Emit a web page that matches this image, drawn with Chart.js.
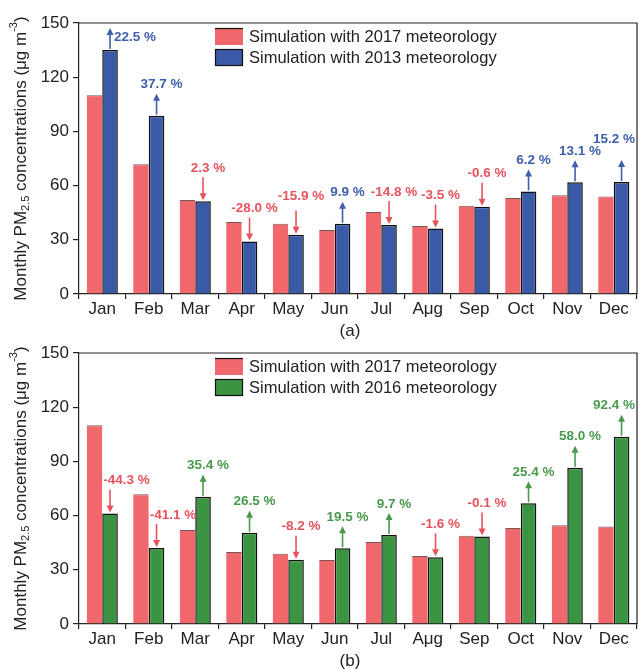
<!DOCTYPE html>
<html>
<head>
<meta charset="utf-8">
<script src="https://cdn.jsdelivr.net/npm/chart.js@4.4.1/dist/chart.umd.min.js"></script>
<style>
  html, body { margin: 0; padding: 0; background: #fff; }
  #wrap { position: relative; width: 639px; height: 669px; }
  canvas { position: absolute; left: 0; }
</style>
</head>
<body>
<div id="wrap">
  <canvas id="panelA" width="639" height="345" style="top:0"></canvas>
  <canvas id="panelB" width="639" height="339" style="top:330px"></canvas>
</div>
<script>
// monthly PM2.5 (ug m-3)
var months = ['Jan', 'Feb', 'Mar', 'Apr', 'May', 'Jun', 'Jul', 'Aμg', 'Sep', 'Oct', 'Nov', 'Dec'];
var sim2017 = [110, 71.8, 52, 39.8, 38.9, 35.4, 45.4, 37.6, 48.9, 53.1, 54.6, 53.9];
var sim2013 = [135, 98.7, 51.3, 29, 32.8, 38.9, 38.2, 36.2, 48.3, 56.8, 61.8, 62];
var sim2016 = [61.2, 42.1, 70.5, 50.5, 35.6, 41.9, 49.3, 36.9, 48.5, 66.8, 86.5, 103.7];
var change2013 = ['22.5 %', '37.7 %', '2.3 %', '-28.0 %', '-15.9 %', '9.9 %', '-14.8 %', '-3.5 %', '-0.6 %', '6.2 %', '13.1 %', '15.2 %'];
var change2016 = ['-44.3 %', '-41.1 %', '35.4 %', '26.5 %', '-8.2 %', '19.5 %', '9.7 %', '-1.6 %', '-0.1 %', '25.4 %', '58.0 %', '92.4 %'];
var yTicks = [0, 30, 60, 90, 120, 150];

var FONT = '"Liberation Sans", Arial, sans-serif';
var RED = '#f0686c', BLUE = '#3a5aa8', GREEN = '#3b9441';
var RED_TXT = '#e6535c', BLUE_TXT = '#3f5eab', GREEN_TXT = '#4a9a4e';

function arrow(ctx, x, yFrom, yTo, color) {
  var dir = yTo < yFrom ? -1 : 1;
  ctx.save();
  ctx.strokeStyle = color;
  ctx.fillStyle = color;
  ctx.lineWidth = 1.6;
  ctx.beginPath();
  ctx.moveTo(x, yFrom);
  ctx.lineTo(x, yTo - dir * 5);
  ctx.stroke();
  ctx.beginPath();
  ctx.moveTo(x, yTo);
  ctx.lineTo(x - 3.5, yTo - dir * 7);
  ctx.lineTo(x + 3.5, yTo - dir * 7);
  ctx.closePath();
  ctx.fill();
  ctx.restore();
}

var panelPlugin = {
  id: 'panel',
  afterDraw: function (chart, args, o) {
    var ctx = chart.ctx, area = chart.chartArea;
    var base = chart.getDatasetMeta(0).data, comp = chart.getDatasetMeta(1).data;
    var ds = chart.data.datasets;

    // frame (top + right)
    ctx.save();
    ctx.strokeStyle = '#222';
    ctx.lineWidth = 1.2;
    ctx.beginPath();
    ctx.moveTo(area.left, area.top);
    ctx.lineTo(area.right, area.top);
    ctx.lineTo(area.right, area.bottom);
    ctx.stroke();
    ctx.restore();

    // change arrows + labels
    ctx.save();
    ctx.font = 'bold 13.5px ' + FONT;
    ctx.textAlign = 'center';
    ctx.textBaseline = 'middle';
    var prev = null;
    for (var i = 0; i < comp.length; i++) {
      var b = comp[i], top = b.y, x = b.x;
      var up = ds[1].data[i] > ds[0].data[i];
      var col = up ? o.upColor : RED_TXT;
      var aTop;
      if (up) { aTop = top - 22; arrow(ctx, x, top - 1, aTop, col); }
      else { aTop = top - 24; arrow(ctx, x, aTop, top - 1, col); }
      var txt = o.changes[i], w = ctx.measureText(txt).width;
      var lx = x + 5, ly = aTop - 9;
      if (ly - 7 < area.top + 2) { lx = x + 4 + w / 2; ly = aTop + 9; }
      else if (base[i].y < ly + 7) { lx = Math.max(lx, b.x - b.width / 2 + 1 + w / 2); }
      if (lx + w / 2 > area.right - 2) lx = area.right - 2 - w / 2;
      if (prev && lx - w / 2 < prev.r && Math.abs(ly - prev.y) < 13) ly = prev.y - 12;
      ctx.fillStyle = col;
      ctx.fillText(txt, lx, ly);
      prev = { r: lx + w / 2, y: ly };
    }
    ctx.restore();

    // legend
    ctx.save();
    ctx.font = '16.5px ' + FONT;
    ctx.textBaseline = 'middle';
    for (var k = 0; k < 2; k++) {
      var by = area.top + 5 + k * 21;
      ctx.fillStyle = ds[k].backgroundColor;
      ctx.fillRect(215, by, 28, 17);
      ctx.strokeStyle = '#111';
      ctx.lineWidth = 1.2;
      if (k === 0) {
        ctx.beginPath(); ctx.moveTo(215, by + 0.5); ctx.lineTo(243, by + 0.5); ctx.stroke();
      } else {
        ctx.strokeRect(215.5, by + 0.5, 27, 16);
      }
      ctx.fillStyle = '#222';
      ctx.fillText(ds[k].label, 249, by + 9);
    }
    ctx.restore();

    // panel tag
    ctx.save();
    ctx.font = '17px ' + FONT;
    ctx.fillStyle = '#222';
    ctx.textAlign = 'center';
    ctx.textBaseline = 'middle';
    ctx.fillText(o.tag, 350, o.tagY);
    ctx.restore();

    // y title with sub/superscript
    var parts = [['Monthly PM', 17, 0], ['2.5', 11, 5], [' concentrations (μg m', 17, 0], ['-3', 11, -7], [')', 17, 0]];
    ctx.save();
    ctx.fillStyle = '#222';
    ctx.textBaseline = 'middle';
    ctx.translate(21, (area.top + area.bottom) / 2);
    ctx.rotate(-Math.PI / 2);
    var total = 0;
    parts.forEach(function (p) { ctx.font = p[1] + 'px ' + FONT; total += ctx.measureText(p[0]).width; });
    var px = -total / 2;
    parts.forEach(function (p) {
      ctx.font = p[1] + 'px ' + FONT;
      ctx.fillText(p[0], px, p[2]);
      px += ctx.measureText(p[0]).width;
    });
    ctx.restore();
  }
};

function makePanel(id, compData, compLabel, compColor, upColor, changes, tag, tagY, xHeight) {
  return new Chart(document.getElementById(id).getContext('2d'), {
    type: 'bar',
    data: {
      labels: months,
      datasets: [{
        label: 'Simulation with 2017 meteorology',
        data: sim2017,
        backgroundColor: RED,
        borderColor: 'rgba(60,20,20,0.7)',
        borderWidth: { top: 1, left: 0, right: 0, bottom: 0 },
        borderSkipped: false
      }, {
        label: compLabel,
        data: compData,
        backgroundColor: compColor,
        borderColor: '#111',
        borderWidth: 1.5
      }]
    },
    options: {
      responsive: false,
      animation: false,
      devicePixelRatio: 1,
      categoryPercentage: 0.67,
      barPercentage: 1,
      layout: { padding: { left: 0, right: 2, top: 23, bottom: 0 } },
      plugins: {
        legend: { display: false },
        tooltip: { enabled: false },
        panel: { changes: changes, upColor: upColor, tag: tag, tagY: tagY }
      },
      scales: {
        x: {
          grid: { offset: true, drawOnChartArea: false, tickLength: 5, color: '#222', lineWidth: 1.2 },
          border: { color: '#222', width: 1.2 },
          ticks: { color: '#222', font: { family: FONT, size: 17 }, padding: 0, maxRotation: 0, autoSkip: false },
          afterFit: function (s) { s.height = xHeight; }
        },
        y: {
          min: 0,
          max: 150,
          afterBuildTicks: function (s) { s.ticks = yTicks.map(function (v) { return { value: v }; }); },
          grid: { drawOnChartArea: false, tickLength: 6, color: '#222', lineWidth: 1.2 },
          border: { color: '#222', width: 1.2 },
          ticks: { color: '#222', font: { family: FONT, size: 17 }, padding: 4 },
          afterFit: function (s) { s.width = 79; }
        }
      }
    },
    plugins: [panelPlugin]
  });
}

makePanel('panelA', sim2013, 'Simulation with 2013 meteorology', BLUE, BLUE_TXT, change2013, '(a)', 331, 51);
makePanel('panelB', sim2016, 'Simulation with 2016 meteorology', GREEN, GREEN_TXT, change2016, '(b)', 331, 45);
</script>
</body>
</html>
